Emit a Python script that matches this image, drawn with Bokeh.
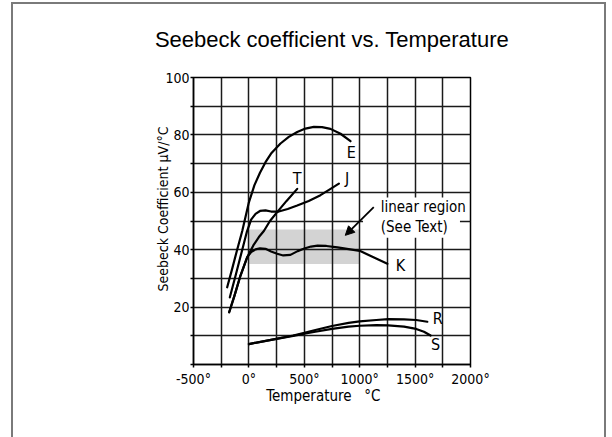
from bokeh.plotting import figure
from bokeh.models import FixedTicker, BoxAnnotation, Label, Arrow, NormalHead, Range1d
from bokeh.embed import file_html
from bokeh.resources import INLINE

# ---- data (temperature in degC, Seebeck in uV/degC) ----
e_temp = [-196, -150, -106, -60, 0, 50, 100, 150, 200, 285, 360, 436, 510, 586, 660, 736, 827, 917]
e_seeb = [26.9, 33.5, 40.0, 46.5, 56.5, 62.5, 66.8, 70.5, 73.5, 77.0, 79.3, 81.0, 82.2, 82.8, 82.7, 82.1, 80.4, 77.8]

j_temp = [-172, -120, -60, -20, 20, 60, 100, 150, 200, 270, 350, 436, 540, 646, 730, 812]
j_seeb = [23.4, 31.0, 40.0, 46.0, 50.5, 52.5, 53.5, 53.7, 53.3, 53.3, 54.2, 55.4, 57.0, 59.0, 61.0, 63.0]

t_temp = [-178, -130, -80, -15, 40, 90, 135, 190, 255, 340, 436]
t_seeb = [18.2, 24.0, 30.5, 37.4, 41.5, 44.4, 46.5, 50.0, 53.1, 57.0, 61.2]

k_temp = [-178, -130, -80, -15, 20, 60, 100, 150, 200, 255, 310, 375, 440, 500, 560, 620, 700, 800, 900, 1000, 1100, 1250]
k_seeb = [18.2, 24.0, 30.5, 37.4, 39.2, 40.1, 40.5, 40.3, 39.4, 38.6, 38.0, 38.2, 39.5, 40.4, 41.1, 41.4, 41.3, 40.8, 40.2, 39.6, 37.8, 35.1]

r_temp = [0, 200, 400, 500, 600, 750, 900, 1000, 1150, 1257, 1400, 1510, 1610]
r_seeb = [7.1, 8.6, 10.1, 11.0, 12.0, 13.4, 14.5, 15.0, 15.5, 15.8, 15.7, 15.5, 14.9]

s_temp = [0, 200, 400, 500, 600, 750, 900, 1000, 1150, 1257, 1400, 1510, 1580, 1640]
s_seeb = [7.1, 8.6, 10.0, 10.7, 11.4, 12.4, 13.2, 13.5, 13.7, 13.6, 13.2, 12.4, 11.4, 10.1]

linear_region = [0, 1000, 35, 47]   # temp from, temp to, seebeck from, seebeck to

x_ticks = [-500, -250, 0, 250, 500, 750, 1000, 1250, 1500, 1750, 2000]
x_tick_labels = ["-500°", "", "0°", "", "500°", "", "1000°", "", "1500°", "", "2000°"]
y_ticks = [0, 10, 20, 30, 40, 50, 60, 70, 80, 90, 100]
y_tick_labels = ["", "", "20", "", "40", "", "60", "", "80", "", "100"]

curve_names = ["E", "T", "J", "K", "R", "S"]
name_pos = [(925, 74.0), (436, 64.8), (887, 64.7), (1368, 34.5), (1705, 15.9), (1684, 7.0)]

NARROW = "DejaVu Sans Condensed"
NB = "\u00a0"

p = figure(width=612, height=437, x_range=Range1d(-500, 2000), y_range=Range1d(0, 100),
           output_backend="svg", toolbar_location=None,
           min_border_left=193, min_border_right=142, min_border_top=77, min_border_bottom=73,
           title="Seebeck coefficient vs. Temperature")
p.background_fill_color = "white"
p.border_fill_color = None
p.outline_line_color = "black"
p.outline_line_width = 1.5
# thin grey picture border (left, top, right) drawn behind the transparent canvas border area
p.styles = {"box-shadow": ("inset 11px 0 0 0 white, inset 0 2px 0 0 white, inset -6px 0 0 0 white, "
                           "inset 13px 0 0 0 #7a7a7a, inset 0 4px 0 0 #7a7a7a, inset -8px 0 0 0 #7a7a7a")}

p.title.align = "center"
p.title.vertical_align = "middle"
p.title.standoff = 49
p.title.text_font = "Liberation Sans"
p.title.text_font_size = "22px"
p.title.text_font_style = "normal"
p.title.text_color = "black"

p.xaxis.ticker = FixedTicker(ticks=x_ticks)
p.xaxis.major_label_overrides = {t: l for t, l in zip(x_ticks, x_tick_labels)}
p.yaxis.ticker = FixedTicker(ticks=y_ticks)
p.yaxis.major_label_overrides = {t: l for t, l in zip(y_ticks, y_tick_labels)}
p.xgrid.ticker = FixedTicker(ticks=x_ticks)
p.ygrid.ticker = FixedTicker(ticks=y_ticks)

for g in (p.xgrid, p.ygrid):
    g.grid_line_color = "#1a1a1a"
    g.grid_line_width = 1.5
    g.grid_line_alpha = 1.0

for ax in (p.xaxis, p.yaxis):
    ax.axis_line_color = "black"
    ax.axis_line_width = 1.5
    ax.major_tick_line_color = "black"
    ax.major_tick_line_width = 1.5
    ax.major_tick_in = 0
    ax.major_tick_out = 3
    ax.minor_tick_line_color = None
    ax.major_label_text_font = NARROW
    ax.major_label_text_font_size = "14px"
    ax.major_label_text_color = "black"
    ax.axis_label_text_font = NARROW
    ax.axis_label_text_font_style = "normal"
    ax.axis_label_text_color = "black"

p.xaxis.axis_label_text_font_size = "15px"
p.yaxis.axis_label_text_font_size = "14px"
p.xaxis.major_label_standoff = 3
p.yaxis.major_label_standoff = 1
p.xaxis.axis_label = "Temperature" + NB * 3 + "°C" + NB * 4
p.yaxis.axis_label = NB * 6 + "Seebeck Coefficient µV/°C"
p.xaxis.axis_label_standoff = -3
p.yaxis.axis_label_standoff = -9

# shaded linear region (behind grid)
p.add_layout(BoxAnnotation(left=linear_region[0], right=linear_region[1],
                           bottom=linear_region[2], top=linear_region[3],
                           fill_color="#d3d3d3", fill_alpha=1.0, line_color=None, level="image"))
# white background behind the "linear region" note
p.add_layout(BoxAnnotation(left=1030, right=1905, bottom=44.2, top=58.2,
                           fill_color="white", fill_alpha=1.0, line_color=None, level="glyph"))

for xs, ys in [(e_temp, e_seeb), (j_temp, j_seeb), (t_temp, t_seeb), (k_temp, k_seeb),
               (r_temp, r_seeb), (s_temp, s_seeb)]:
    p.line(xs, ys, line_color="black", line_width=2.2, line_join="round", line_cap="round")

for name, (lx, ly) in zip(curve_names, name_pos):
    p.add_layout(Label(x=lx, y=ly, text=name, text_font=NARROW, text_font_size="16px",
                       text_align="center", text_baseline="middle", text_color="black"))

p.add_layout(Label(x=1190, y=55, text="linear region", text_font=NARROW, text_font_size="15px",
                   text_align="left", text_baseline="middle", text_color="black"))
p.add_layout(Label(x=1190, y=47.8, text="(See Text)", text_font=NARROW, text_font_size="15px",
                   text_align="left", text_baseline="middle", text_color="black"))

p.add_layout(Arrow(end=NormalHead(size=9, fill_color="black", line_color="black"),
                   x_start=1127, y_start=54.8, x_end=870, y_end=45.0,
                   line_color="black", line_width=1.8))

open("out.html", "w").write(file_html(p, INLINE))
